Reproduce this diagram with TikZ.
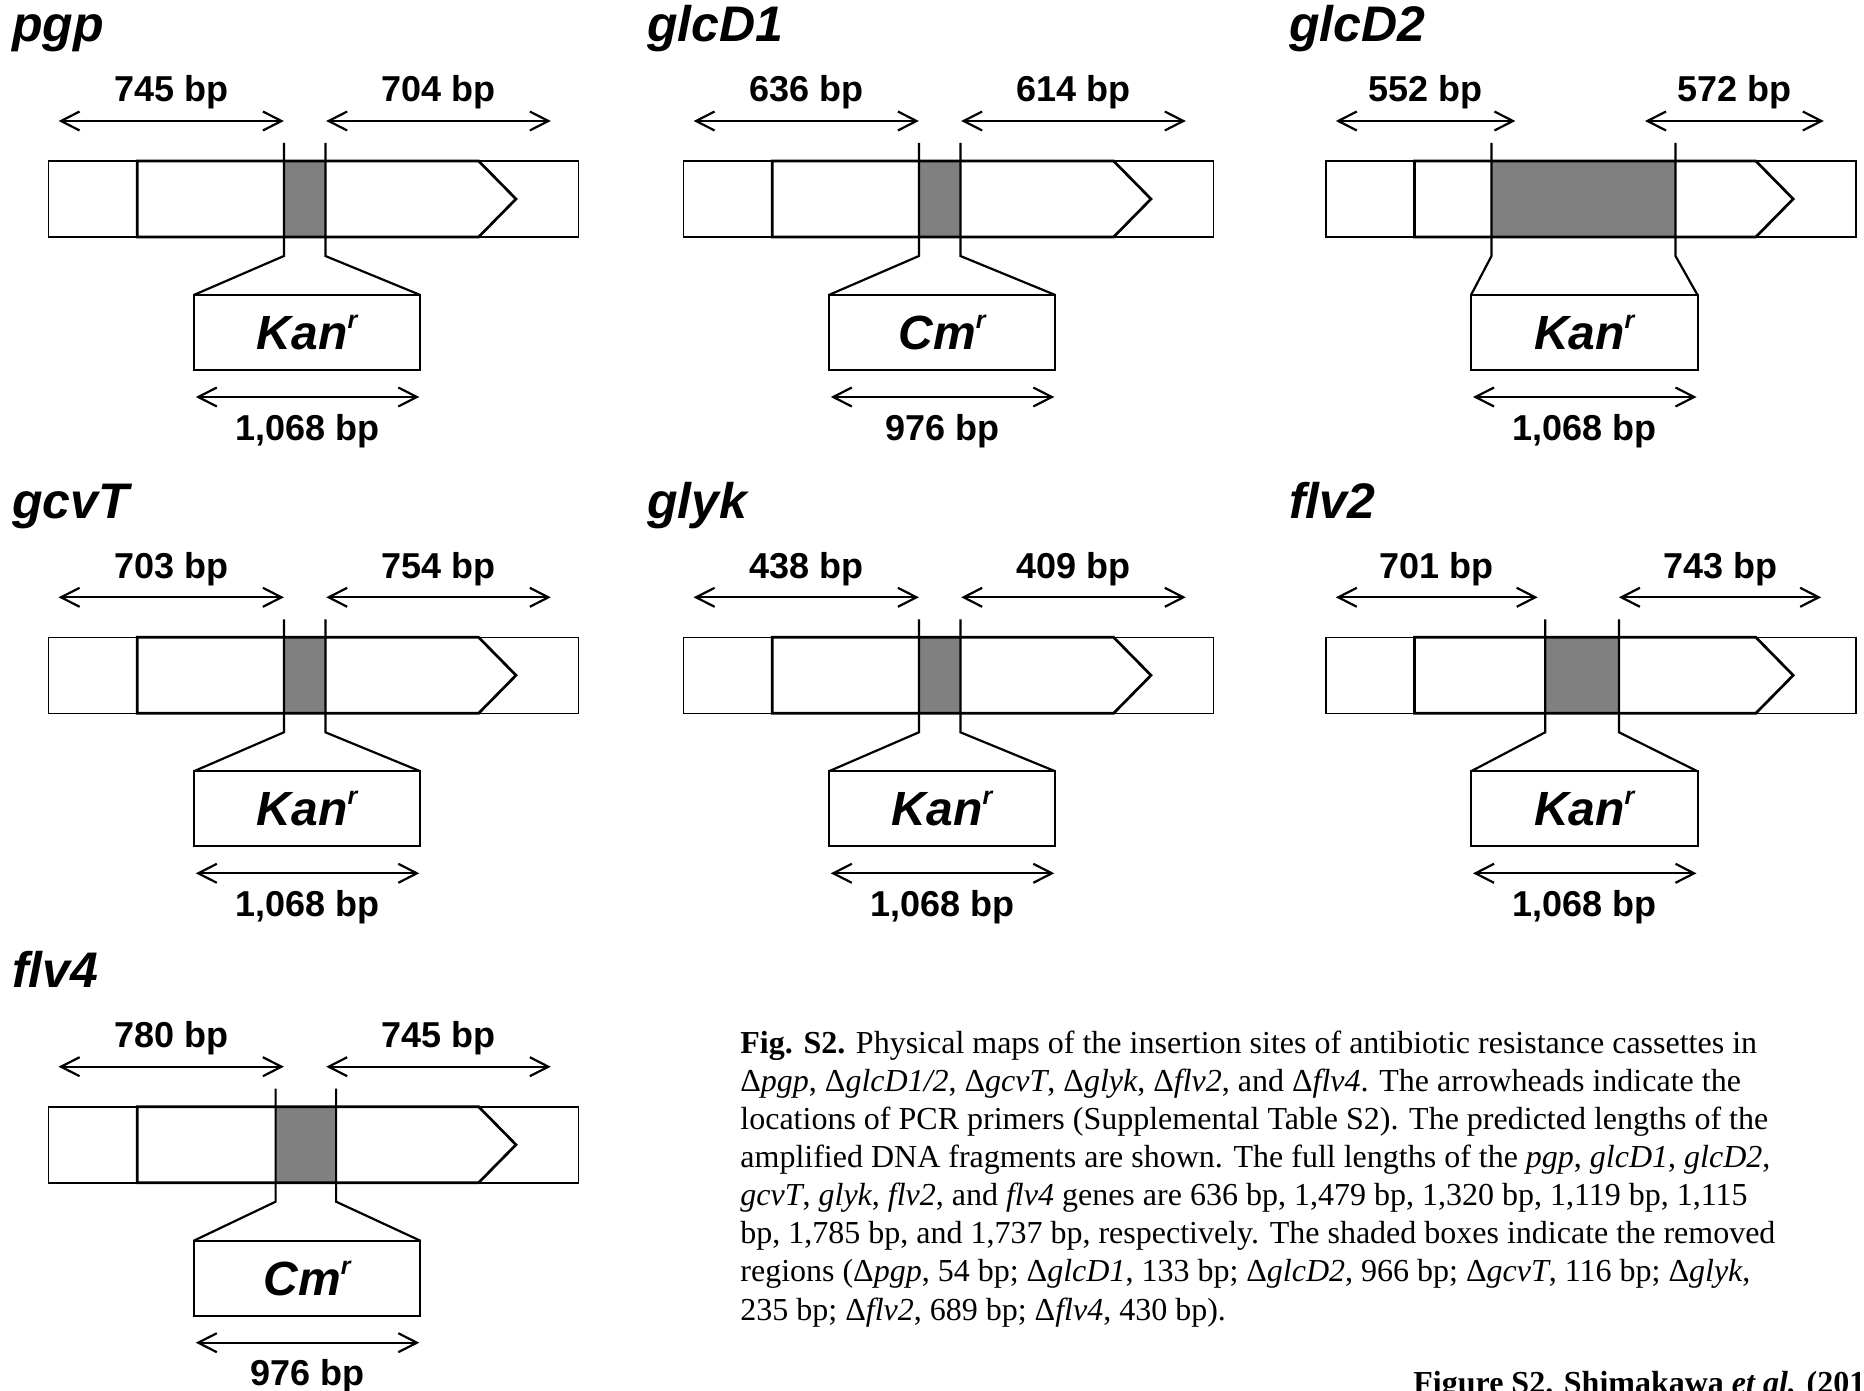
\documentclass[tikz,border=0pt]{standalone}
\usepackage{fontspec}
\setmainfont{Liberation Serif}
\setsansfont{Liberation Sans}
\usetikzlibrary{arrows.meta, calc}

\begin{document}
\begin{tikzpicture}[
    x=0.5pt, y=-0.5pt,
    flank/.style={draw, line width=0.8pt},
    orf/.style={draw, line width=1.35pt},
    removed/.style={fill=black!50},
    cut/.style={line width=1.1pt},
    cassette/.style={draw, line width=1pt, minimum width=113.25pt, minimum height=37.5pt,
        inner sep=0pt, outer sep=0pt, anchor=north west,
        font=\sffamily\bfseries\itshape\fontsize{24}{26}\selectfont},
    span/.style={<->, >={Straight Barb[length=9.3pt, width=9.5pt]}, line width=1.1pt},
    bp/.style={font=\sffamily\bfseries\fontsize{18}{20}\selectfont, anchor=base, inner sep=0pt},
    genename/.style={font=\sffamily\bfseries\itshape\fontsize{25}{27}\selectfont, anchor=base west, inner sep=0pt},
    legend/.style={font=\fontsize{16}{19.05}\selectfont, align=left, anchor=base west, inner sep=0pt}
]
\useasboundingbox (0,0) rectangle (1864,1391);
% one map per gene: origin, name, flank sizes, cassette, removed region, primer spans
\foreach \x/\y/\gene/\lbp/\rbp/\cas/\full/\gl/\gr/\al/\ar/\ae [count=\i] in {
    48.6/161/pgp/745/704/Kan/{1,068}/235.3/276.8/235.3/277.6/502.2,
    683.6/161/glcD1/636/614/Cm/976/235.3/276.8/235.3/277.6/502.2,
    1325.8/161/glcD2/552/572/Kan/{1,068}/165.7/349.7/189.6/319.2/498,
    48.6/637.3/gcvT/703/754/Kan/{1,068}/235.3/276.8/235.3/277.6/502.2,
    683.6/637.3/glyk/438/409/Kan/{1,068}/235.3/276.8/235.3/277.6/502.2,
    1325.8/637.3/flv2/701/743/Kan/{1,068}/219.4/293.1/211.9/293.1/495.4,
    48.6/1106.7/flv4/780/745/Cm/976/227/287.5/235.3/277.6/502.2}{
  \node[genename] (name\i) at (\x-37,\y-119) {\gene};
  % genomic region with the gene and its removed part
  \draw[flank] (\x,\y) rectangle (\x+530,\y+76);
  \fill[removed] (\x+\gl,\y) rectangle (\x+\gr,\y+76);
  \draw[orf] (\x+88.6,\y) -- (\x+430,\y) -- (\x+467.4,\y+38) -- (\x+430,\y+76) -- (\x+88.6,\y+76) -- cycle;
  % inserted cassette
  \node[cassette] (cas\i) at (\x+145.2,\y+134) {\cas\raisebox{10.5pt}{\fontsize{12.5}{12.5}\selectfont r}};
  \coordinate (cl\i) at (\x+\gl,\y+95);
  \coordinate (cr\i) at (\x+\gr,\y+95);
  \draw[cut] (\x+\gl,\y-18) -- (cl\i) -- (cas\i.north west);
  \draw[cut] (\x+\gr,\y-18) -- (cr\i) -- (cas\i.north east);
  % PCR fragments
  \node[bp] (lbp\i) at ({\x+(10+\al)/2},\y-59) {\lbp\ bp};
  \node[bp] (rbp\i) at ({\x+(\ar+\ae)/2},\y-59) {\rbp\ bp};
  \draw[span] (\x+10,\y-40) -- (\x+\al,\y-40);
  \draw[span] (\x+\ar,\y-40) -- (\x+\ae,\y-40);
  \draw[span] ($(cas\i.south west)+(2,27)$) -- ($(cas\i.south east)+(-1,27)$);
  \node[bp] (size\i) at ($(cas\i.south)+(0,70)$) {\full\ bp};
}
% caption (anchored at the baseline of its last line)
\node[legend] (legend) at (740,1320) {\textbf{Fig. S2.} Physical maps of the insertion sites of antibiotic resistance cassettes in\\
Δ\textit{pgp}, Δ\textit{glcD1/2}, Δ\textit{gcvT}, Δ\textit{glyk}, Δ\textit{flv2}, and Δ\textit{flv4}. The arrowheads indicate the\\
locations of PCR primers (Supplemental Table S2). The predicted lengths of the\\
amplified DNA fragments are shown. The full lengths of the \textit{pgp}, \textit{glcD1}, \textit{glcD2},\\
\textit{gcvT}, \textit{glyk}, \textit{flv2}, and \textit{flv4} genes are 636 bp, 1,479 bp, 1,320 bp, 1,119 bp, 1,115\\
bp, 1,785 bp, and 1,737 bp, respectively. The shaded boxes indicate the removed\\
regions (Δ\textit{pgp}, 54 bp; Δ\textit{glcD1}, 133 bp; Δ\textit{glcD2}, 966 bp; Δ\textit{gcvT}, 116 bp; Δ\textit{glyk},\\
235 bp; Δ\textit{flv2}, 689 bp; Δ\textit{flv4}, 430 bp).};
\node[legend, font=\bfseries\fontsize{16}{19}\selectfont] (footer) at (1413,1393) {Figure S2. Shimakawa \textit{et al.} (2014)};
\end{tikzpicture}
\end{document}
